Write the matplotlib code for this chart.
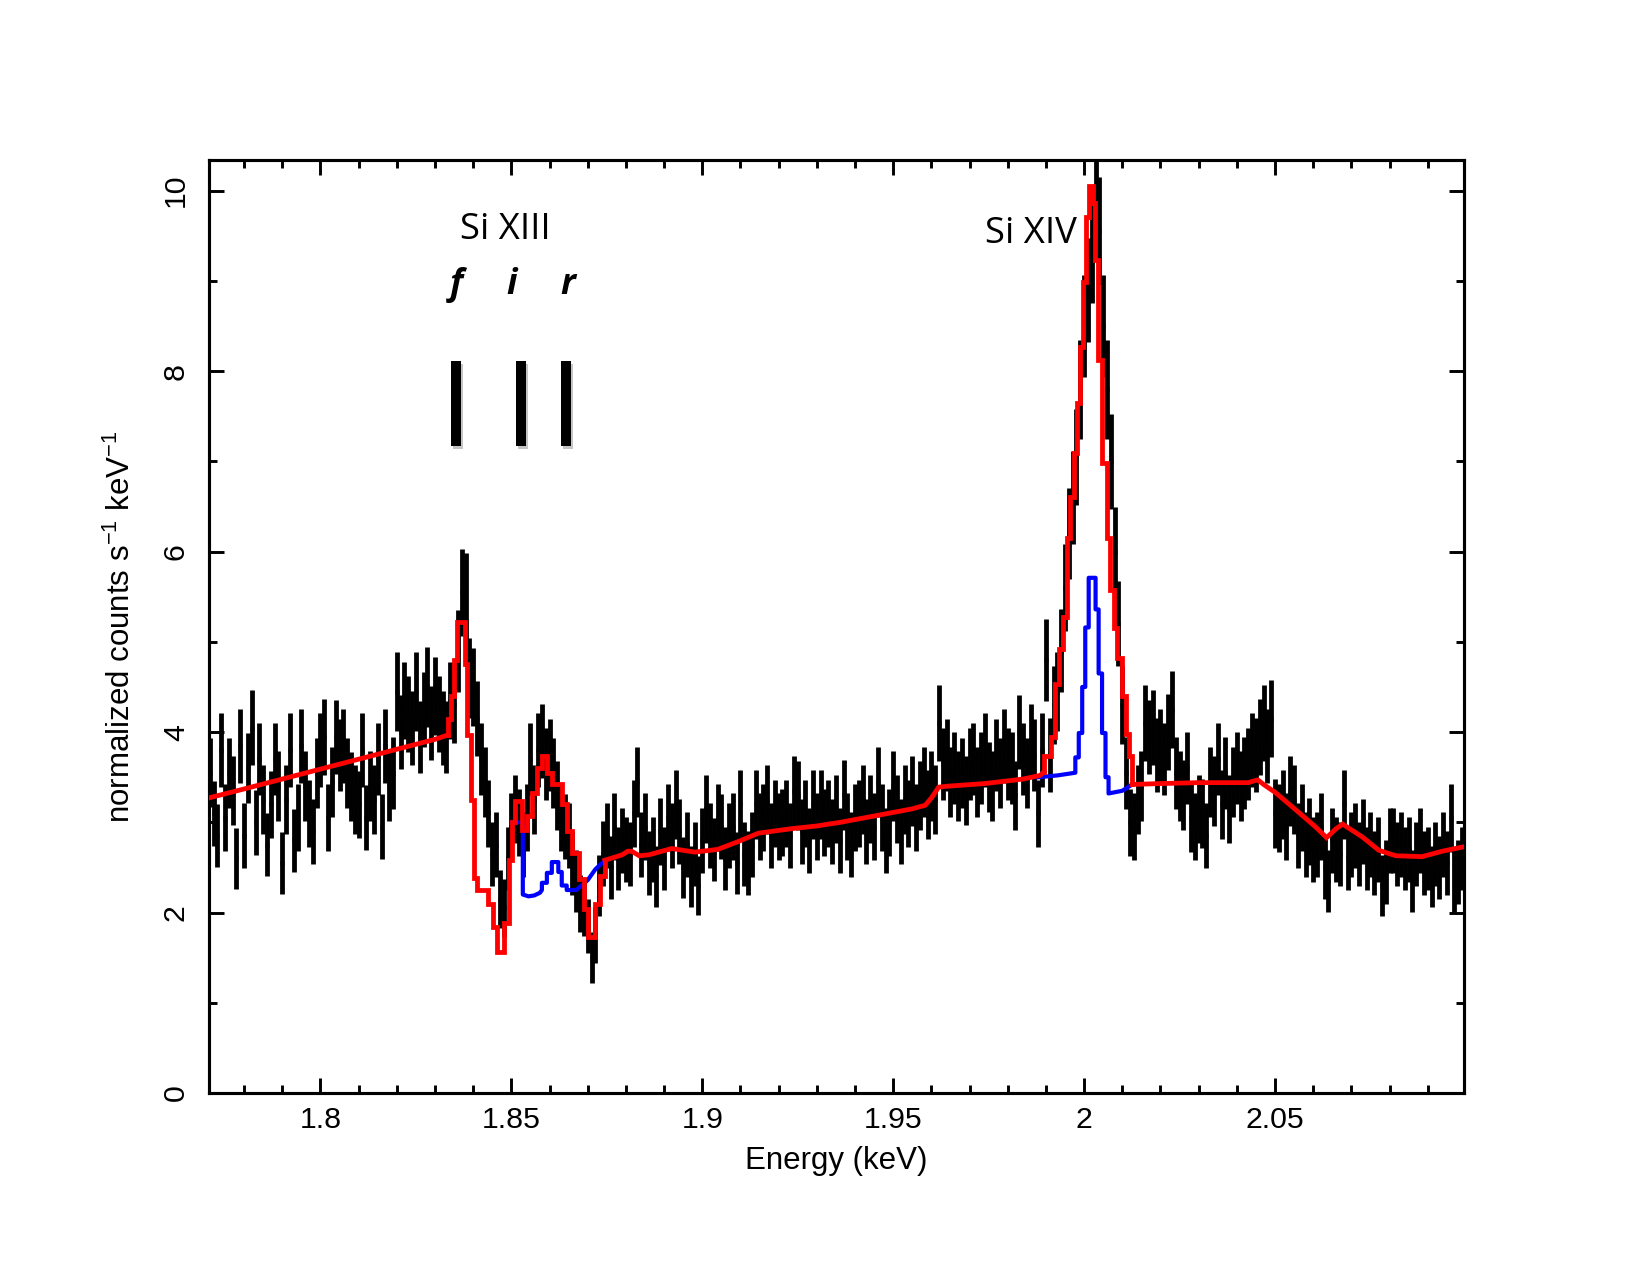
import numpy as np
import matplotlib
matplotlib.use('Agg')
import matplotlib.pyplot as plt
from matplotlib.ticker import MultipleLocator, FixedLocator, FixedFormatter
import matplotlib.patheffects as pe

plt.rcParams['font.family'] = ['Liberation Sans', 'DejaVu Sans']
plt.rcParams['mathtext.fontset'] = 'custom'
plt.rcParams['mathtext.rm'] = 'Liberation Sans'
plt.rcParams['mathtext.it'] = 'Liberation Sans:italic'

# ---------------- data: observed spectrum (bin centres every 0.001 keV) ----------------
energy = np.round(np.arange(1.771, 2.0995, 0.001), 3)
bin_half_width = 0.0005

c_1771 = [3.55, 3.10, 2.85, 3.80, 3.05, 3.55, 3.35, 2.60, 3.85, 2.85]
c_1781 = [3.60, 4.05, 3.00, 3.70, 3.25, 2.75, 3.20, 3.70, 3.40, 2.55]
c_1791 = [3.25, 3.80, 2.80, 3.05, 3.85, 3.40, 3.10, 2.90, 3.55, 3.80]
c_1801 = [3.95, 3.05, 3.45, 3.95, 3.75, 3.85, 3.55, 3.40, 3.25, 3.20]
c_1811 = [3.80, 3.05, 3.40, 3.25, 3.70, 2.95, 3.85, 3.40, 3.55, 4.45]
c_1821 = [4.00, 4.35, 4.20, 4.05, 4.45, 3.95, 4.25, 4.50, 4.10, 4.40]
c_1831 = [4.20, 4.05, 3.95, 4.35, 4.30, 4.90, 5.55, 5.50, 4.60, 4.50]
c_1841 = [4.15, 3.70, 3.45, 3.10, 2.65, 2.75, 2.15, 2.05, 2.60, 2.95]
c_1851 = [3.15, 3.00, 2.75, 3.05, 3.70, 3.25, 3.80, 3.90, 3.65, 3.75]
c_1861 = [3.55, 3.30, 3.05, 2.95, 2.85, 2.55, 2.35, 2.10, 2.05, 1.85]
c_1871 = [1.50, 1.75, 2.30, 2.65, 2.85, 2.50, 2.95, 2.60, 2.80, 2.70]
c_1881 = [2.65, 3.10, 3.45, 2.75, 2.95, 2.55, 2.70, 2.40, 2.90, 2.60]
c_1891 = [3.05, 2.85, 3.20, 2.90, 2.50, 2.75, 2.40, 2.65, 2.30, 2.80]
c_1901 = [3.15, 2.85, 2.70, 3.05, 2.95, 2.60, 2.85, 2.95, 2.55, 3.20]
c_1911 = [2.65, 2.55, 2.75, 3.20, 2.95, 3.05, 3.25, 2.85, 3.10, 2.95]
c_1921 = [3.00, 3.10, 2.85, 3.35, 3.30, 2.90, 3.10, 2.80, 3.20, 2.95]
c_1931 = [3.20, 3.00, 3.10, 2.90, 3.15, 2.80, 3.30, 2.95, 2.75, 3.05]
c_1941 = [3.10, 3.25, 2.90, 3.15, 2.95, 3.45, 3.05, 2.80, 3.00, 3.40]
c_1951 = [3.15, 2.90, 3.25, 3.10, 3.35, 3.05, 3.30, 3.45, 3.20, 3.40]
c_1961 = [3.25, 4.10, 3.65, 3.75, 3.45, 3.60, 3.40, 3.55, 3.35, 3.65]
c_1971 = [3.70, 3.45, 3.60, 3.80, 3.50, 3.40, 3.75, 3.55, 3.85, 3.65]
c_1981 = [3.60, 3.30, 4.00, 3.70, 3.55, 3.90, 3.75, 3.10, 3.80, 4.80]
c_1991 = [3.75, 4.30, 4.45, 4.90, 5.60, 6.20, 6.60, 7.05, 7.80, 8.50]
c_2001 = [8.90, 9.35, 9.85, 9.55, 8.50, 7.80, 7.00, 6.00, 5.20, 4.30]
c_2011 = [3.55, 3.00, 2.95, 3.25, 3.40, 4.10, 3.95, 4.05, 3.75, 3.85]
c_2021 = [3.70, 4.00, 4.25, 3.55, 3.40, 3.30, 3.60, 3.05, 2.95, 3.15]
c_2031 = [3.10, 2.85, 3.45, 3.35, 3.70, 3.20, 3.55, 3.15, 3.45, 3.60]
c_2041 = [3.40, 3.55, 3.65, 3.80, 3.75, 3.95, 4.10, 3.85, 4.15, 3.10]
c_2051 = [3.05, 3.20, 2.95, 3.35, 3.25, 2.85, 3.05, 2.75, 2.90, 2.70]
c_2061 = [2.75, 2.95, 2.50, 2.35, 2.80, 2.70, 2.65, 3.20, 2.60, 2.75]
c_2071 = [2.85, 2.65, 2.90, 2.60, 2.75, 2.55, 2.70, 2.30, 2.45, 2.80]
c_2081 = [2.80, 2.65, 2.75, 2.60, 2.70, 2.35, 2.65, 2.80, 2.55, 2.60]
c_2091 = [2.40, 2.65, 2.50, 2.75, 2.55, 3.05, 2.35, 2.45, 2.60]

e_1771 = [0.38, 0.36, 0.35, 0.41, 0.37, 0.39, 0.38, 0.34, 0.41, 0.36]
e_1781 = [0.39, 0.42, 0.36, 0.40, 0.38, 0.35, 0.37, 0.40, 0.39, 0.34]
e_1791 = [0.38, 0.41, 0.35, 0.37, 0.41, 0.39, 0.37, 0.36, 0.39, 0.41]
e_1801 = [0.42, 0.37, 0.39, 0.41, 0.40, 0.41, 0.39, 0.38, 0.38, 0.37]
e_1811 = [0.41, 0.36, 0.39, 0.38, 0.40, 0.36, 0.41, 0.39, 0.40, 0.44]
e_1821 = [0.41, 0.43, 0.42, 0.41, 0.44, 0.40, 0.42, 0.44, 0.41, 0.43]
e_1831 = [0.42, 0.41, 0.40, 0.43, 0.42, 0.45, 0.48, 0.48, 0.44, 0.43]
e_1841 = [0.42, 0.40, 0.39, 0.37, 0.35, 0.36, 0.32, 0.32, 0.35, 0.37]
e_1851 = [0.38, 0.37, 0.36, 0.37, 0.40, 0.38, 0.41, 0.41, 0.40, 0.40]
e_1861 = [0.39, 0.38, 0.37, 0.36, 0.36, 0.35, 0.34, 0.32, 0.31, 0.30]
e_1871 = [0.28, 0.31, 0.34, 0.36, 0.36, 0.35, 0.37, 0.35, 0.36, 0.36]
e_1881 = [0.35, 0.37, 0.39, 0.36, 0.37, 0.35, 0.36, 0.34, 0.37, 0.35]
e_1891 = [0.37, 0.36, 0.38, 0.36, 0.34, 0.36, 0.34, 0.35, 0.33, 0.36]
e_1901 = [0.38, 0.36, 0.35, 0.37, 0.36, 0.35, 0.36, 0.37, 0.34, 0.38]
e_1911 = [0.35, 0.35, 0.36, 0.38, 0.37, 0.37, 0.38, 0.36, 0.37, 0.37]
e_1921 = [0.37, 0.37, 0.36, 0.39, 0.38, 0.36, 0.37, 0.36, 0.38, 0.37]
e_1931 = [0.38, 0.37, 0.37, 0.36, 0.38, 0.36, 0.39, 0.37, 0.36, 0.37]
e_1941 = [0.37, 0.38, 0.36, 0.38, 0.37, 0.39, 0.37, 0.36, 0.37, 0.39]
e_1951 = [0.38, 0.36, 0.38, 0.37, 0.39, 0.37, 0.38, 0.39, 0.38, 0.39]
e_1961 = [0.38, 0.42, 0.40, 0.40, 0.39, 0.40, 0.39, 0.39, 0.38, 0.40]
e_1971 = [0.40, 0.39, 0.40, 0.41, 0.39, 0.39, 0.40, 0.39, 0.41, 0.40]
e_1981 = [0.40, 0.38, 0.41, 0.40, 0.39, 0.41, 0.40, 0.37, 0.41, 0.45]
e_1991 = [0.41, 0.43, 0.44, 0.46, 0.48, 0.50, 0.51, 0.53, 0.55, 0.57]
e_2001 = [0.58, 0.60, 0.61, 0.60, 0.57, 0.55, 0.53, 0.50, 0.47, 0.43]
e_2011 = [0.40, 0.37, 0.37, 0.38, 0.39, 0.42, 0.41, 0.42, 0.41, 0.41]
e_2021 = [0.40, 0.42, 0.43, 0.40, 0.39, 0.39, 0.40, 0.38, 0.37, 0.38]
e_2031 = [0.38, 0.36, 0.39, 0.39, 0.40, 0.38, 0.40, 0.38, 0.39, 0.40]
e_2041 = [0.39, 0.40, 0.40, 0.41, 0.41, 0.42, 0.42, 0.41, 0.43, 0.38]
e_2051 = [0.38, 0.38, 0.37, 0.39, 0.38, 0.36, 0.37, 0.36, 0.37, 0.36]
e_2061 = [0.36, 0.37, 0.35, 0.34, 0.36, 0.36, 0.35, 0.38, 0.35, 0.36]
e_2071 = [0.36, 0.35, 0.36, 0.35, 0.36, 0.35, 0.36, 0.34, 0.35, 0.36]
e_2081 = [0.36, 0.35, 0.36, 0.35, 0.36, 0.34, 0.35, 0.36, 0.35, 0.35]
e_2091 = [0.34, 0.35, 0.35, 0.36, 0.35, 0.38, 0.34, 0.35, 0.35]

counts = (c_1771 + c_1781 + c_1791 + c_1801 + c_1811 + c_1821 + c_1831 + c_1841 +
          c_1851 + c_1861 + c_1871 + c_1881 + c_1891 + c_1901 + c_1911 + c_1921 +
          c_1931 + c_1941 + c_1951 + c_1961 + c_1971 + c_1981 + c_1991 + c_2001 +
          c_2011 + c_2021 + c_2031 + c_2041 + c_2051 + c_2061 + c_2071 + c_2081 + c_2091)
errors = (e_1771 + e_1781 + e_1791 + e_1801 + e_1811 + e_1821 + e_1831 + e_1841 +
          e_1851 + e_1861 + e_1871 + e_1881 + e_1891 + e_1901 + e_1911 + e_1921 +
          e_1931 + e_1941 + e_1951 + e_1961 + e_1971 + e_1981 + e_1991 + e_2001 +
          e_2011 + e_2021 + e_2031 + e_2041 + e_2051 + e_2061 + e_2071 + e_2081 + e_2091)

# ---------------- total model (red) ----------------
red_cont1_E = [1.7707, 1.780, 1.790, 1.800, 1.810, 1.820, 1.830, 1.8335]
red_cont1_y = [3.27, 3.37, 3.48, 3.59, 3.70, 3.81, 3.92, 3.97]

red_sixiii_E = [1.8335, 1.8335, 1.8343, 1.8350, 1.8357, 1.8379, 1.8385, 1.8393, 1.8401, 1.8410,
                1.8440, 1.8453, 1.8462, 1.8480, 1.8493, 1.8501, 1.8510, 1.8527, 1.8540, 1.8553,
                1.8566, 1.8580, 1.8593, 1.8606, 1.8632, 1.8645, 1.8658, 1.8676, 1.8689, 1.8702,
                1.8719, 1.8732, 1.8745]
red_sixiii_y = [3.97, 4.15, 4.40, 4.80, 5.22, 4.75, 3.97, 3.25, 2.38, 2.25,
                2.10, 1.84, 1.56, 1.88, 2.58, 3.00, 3.24, 2.92, 3.07, 3.33,
                3.60, 3.73, 3.55, 3.42, 3.20, 2.90, 2.66, 2.37, 2.04, 1.73,
                2.10, 2.40, 2.58]

red_cont2_E = [1.8745, 1.8760, 1.8790, 1.8805, 1.8815, 1.8835, 1.8860, 1.8920, 1.8980, 1.9040,
               1.9090, 1.9147, 1.9234, 1.9300, 1.9361, 1.9450, 1.9550, 1.9584, 1.9600, 1.9619,
               1.9640, 1.9740, 1.9840, 1.9885, 1.9895]
red_cont2_y = [2.58, 2.60, 2.64, 2.68, 2.68, 2.63, 2.64, 2.71, 2.67, 2.70,
               2.78, 2.88, 2.93, 2.96, 3.00, 3.07, 3.15, 3.19, 3.27, 3.39,
               3.40, 3.43, 3.48, 3.52, 3.56]

red_sixiv_E = [1.9895, 1.9895, 1.9912, 1.9925, 1.9935, 1.9944, 1.9954, 1.9964, 1.9974, 1.9981,
               1.9989, 1.9997, 2.0004, 2.0012, 2.0024, 2.0029, 2.0037, 2.0047, 2.0059, 2.0067,
               2.0077, 2.0087, 2.0100, 2.0109, 2.0117, 2.0126]
red_sixiv_y = [3.56, 3.74, 3.95, 4.53, 4.92, 5.28, 6.15, 6.60, 7.09, 7.65,
               8.27, 8.99, 9.71, 10.05, 9.86, 9.23, 8.12, 6.98, 6.15, 5.57,
               5.15, 4.82, 4.40, 3.98, 3.74, 3.42]

red_cont3_E = [2.0126, 2.0200, 2.0300, 2.0400, 2.0430, 2.0445, 2.0455, 2.0470, 2.0501, 2.0554,
               2.0606, 2.0635, 2.0660, 2.0677, 2.0728, 2.0772, 2.0816, 2.0885, 2.0938, 2.0995]
red_cont3_y = [3.42, 3.43, 3.44, 3.44, 3.44, 3.46, 3.47, 3.42, 3.33, 3.14,
               2.95, 2.83, 2.93, 2.98, 2.84, 2.69, 2.63, 2.62, 2.68, 2.73]

# ---------------- alternative model (blue), where it departs from red ----------------
blue_sixiii_E = [1.8501, 1.8530, 1.8530, 1.8545, 1.8560, 1.8575, 1.8580, 1.8580, 1.8593, 1.8593,
                 1.8606, 1.8606, 1.8623, 1.8623, 1.8632, 1.8632, 1.8645, 1.8645, 1.8670, 1.8700,
                 1.8720, 1.8745]
blue_sixiii_y = [3.00, 3.00, 2.20, 2.18, 2.19, 2.22, 2.25, 2.33, 2.33, 2.44,
                 2.44, 2.56, 2.56, 2.45, 2.45, 2.30, 2.30, 2.25, 2.25, 2.36,
                 2.48, 2.58]

blue_sixiv_E = [1.9880, 1.9930, 1.9977, 1.9977, 1.9986, 1.9986, 1.9995, 1.9995, 2.0003, 2.0003,
                2.0012, 2.0012, 2.0030, 2.0030, 2.0038, 2.0038, 2.0047, 2.0047, 2.0056, 2.0056,
                2.0064, 2.0064, 2.0100, 2.0126]
blue_sixiv_y = [3.50, 3.52, 3.55, 3.72, 3.72, 3.99, 3.99, 4.50, 4.50, 5.16,
                5.16, 5.71, 5.71, 5.36, 5.36, 4.65, 4.65, 3.99, 3.99, 3.50,
                3.50, 3.32, 3.35, 3.42]

# ---------------- annotations ----------------
fir_labels = ['f', 'i', 'r']
fir_label_E = [1.8355, 1.8501, 1.8648]
fir_label_y = 8.85
fir_bar_E = [1.8355, 1.8524, 1.8643]
fir_bar_y = [7.17, 8.11]
ion_labels = ['Si XIII', 'Si XIV']
ion_label_E = [1.8485, 1.9861]
ion_label_y = [9.46, 9.42]

x_ticks = [1.80, 1.85, 1.90, 1.95, 2.00, 2.05]
x_tick_labels = ['1.8', '1.85', '1.9', '1.95', '2', '2.05']
y_ticks = [0, 2, 4, 6, 8, 10]
y_tick_labels = ['0', '2', '4', '6', '8', '10']

# ---------------- figure ----------------
fig = plt.figure(figsize=(11, 8.5), dpi=150)
ax = fig.add_axes([0.1264, 0.1427, 0.7609, 0.7318])

ax.errorbar(energy, counts, yerr=errors, xerr=bin_half_width, fmt='none',
            ecolor='black', elinewidth=2.3, capsize=0, zorder=2)

ax.plot(blue_sixiii_E, blue_sixiii_y, color='#0000FF', lw=2.0, zorder=3)
ax.plot(blue_sixiv_E, blue_sixiv_y, color='#0000FF', lw=2.0, zorder=3)

red_kw = dict(color='#FF0000', lw=2.3, zorder=4, solid_joinstyle='miter')
ax.plot(red_cont1_E, red_cont1_y, **red_kw)
ax.plot(red_sixiii_E, red_sixiii_y, drawstyle='steps-post', **red_kw)
ax.plot(red_cont2_E, red_cont2_y, **red_kw)
ax.plot(red_sixiv_E, red_sixiv_y, drawstyle='steps-post', **red_kw)
ax.plot(red_cont3_E, red_cont3_y, **red_kw)

# line markers with soft shadow
for xe in fir_bar_E:
    ax.plot([xe, xe], fir_bar_y, color='black', lw=4.8, solid_capstyle='butt', zorder=5,
            path_effects=[pe.SimpleLineShadow(offset=(1, -1.5), shadow_color='gray', alpha=0.45),
                          pe.Normal()])
for lab, xe in zip(fir_labels, fir_label_E):
    ax.text(xe, fir_label_y, lab, ha='center', va='baseline', fontsize=17,
            family=['Open Sans', 'DejaVu Sans'], fontweight='bold', fontstyle='italic', zorder=6)
for lab, xe, ye in zip(ion_labels, ion_label_E, ion_label_y):
    ax.text(xe, ye, lab, ha='center', va='baseline', fontsize=17.5,
            family=['Open Sans', 'DejaVu Sans'], zorder=6)

ax.set_xlim(1.7707, 2.0995)
ax.set_ylim(0, 10.34)

ax.xaxis.set_major_locator(FixedLocator(x_ticks))
ax.xaxis.set_major_formatter(FixedFormatter(x_tick_labels))
ax.xaxis.set_minor_locator(MultipleLocator(0.01))
ax.yaxis.set_major_locator(FixedLocator(y_ticks))
ax.yaxis.set_major_formatter(FixedFormatter(y_tick_labels))
ax.yaxis.set_minor_locator(MultipleLocator(1))

ax.tick_params(which='both', direction='in', top=True, right=True, width=1.4, colors='black')
ax.tick_params(which='major', length=7)
ax.tick_params(which='minor', length=4)
ax.tick_params(axis='x', which='major', labelsize=14.5, pad=6)
ax.tick_params(axis='y', which='major', labelsize=14.5, pad=9, labelrotation=90)
for lbl in ax.get_yticklabels():
    lbl.set_va('center')

for sp in ax.spines.values():
    sp.set_linewidth(1.5)

ax.set_xlabel('Energy (keV)', fontsize=15, labelpad=6)
ax.set_ylabel(r'normalized counts s$^{\mathregular{-1}}$ keV$^{\mathregular{-1}}$', fontsize=15, labelpad=12)

fig.savefig('out.png', dpi=150)
